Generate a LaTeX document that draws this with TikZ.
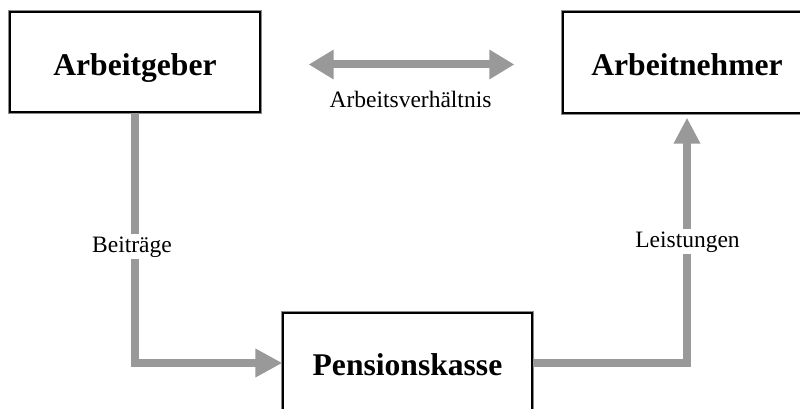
\documentclass[tikz,border=0pt]{standalone}
\usepackage{fontspec}
\setmainfont{Liberation Serif}
\usetikzlibrary{arrows.meta,calc}
\definecolor{connc}{HTML}{999999}
\definecolor{rimc}{HTML}{8A8A8A}
\begin{document}
\begin{tikzpicture}[x=1pt,y=-1pt,
  box/.style={draw=black, line width=1.3pt, fill=white,
    preaction={draw=rimc, line width=3.6pt},
    inner sep=0pt, text depth=0pt, font=\fontsize{31.6}{36}\selectfont\bfseries},
  lbl/.style={font=\fontsize{23.5}{26}\selectfont, inner sep=2pt},
  conn/.style={draw=connc, line width=8pt},
  tip/.style={-{Triangle[length=27pt,width=27pt]}}
]
\useasboundingbox (0,0) rectangle (800,409);
\clip (0,0) rectangle (800,409);
\fill[white] (0,0) rectangle (800,409);

\node[box, minimum width=250pt, minimum height=100pt, text height=27pt] (ag) at (135,62) {Arbeitgeber};
\node[box, minimum width=248pt, minimum height=101pt, text height=26pt] (an) at (687,62.5) {Arbeitnehmer};
\node[box, minimum width=249pt, minimum height=100pt, text height=24pt] (pk) at (407.5,363) {Pensionskasse};

\coordinate (mid) at (400,64.5);
\draw[conn, {Triangle[length=25pt,width=28pt]}-{Triangle[length=25pt,width=28pt]},
  shorten <=48pt, shorten >=48pt] (ag.east |- mid) -- (an.west |- mid);
\draw[conn, tip] (ag.south) |- (pk.west);
\draw[conn, -{Triangle[length=26pt,width=25pt]}, shorten >=4pt] (pk.east) -| (an.south);

\node[lbl, anchor=base] (la) at (410.5,108) {Arbeitsverhältnis};
\node[lbl, anchor=base, fill=white] (lb) at (132,252) {Beiträge};
\node[lbl, anchor=base, fill=white] (ll) at (687.5,247) {Leistungen};
\end{tikzpicture}
\end{document}
